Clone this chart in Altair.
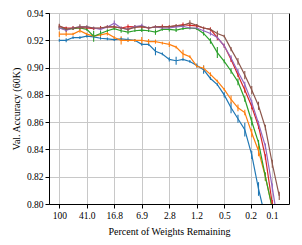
import altair as alt
import pandas as pd

# Percent of weights remaining at each pruning round
x_pct = [100, 80.0, 64.0, 51.2, 40.96, 32.77, 26.21, 20.97, 16.78, 13.42, 10.74,
         8.59, 6.87, 5.50, 4.40, 3.52, 2.81, 2.25, 1.80, 1.44, 1.15, 0.922,
         0.738, 0.590, 0.472, 0.378, 0.302, 0.242, 0.193, 0.155, 0.124, 0.099, 0.079]

series_names = ["s0", "s1", "s2", "s3", "s4", "s5"]
colors = ["#1f77b4", "#ff7f0e", "#2ca02c", "#d62728", "#9467bd", "#8c564b"]

blue = [0.920, 0.920, 0.922, 0.922, 0.923, 0.9225, 0.9215, 0.921, 0.9205, 0.921, 0.9205,
        0.920, 0.917, 0.917, 0.912, 0.910, 0.906, 0.905, 0.906, 0.9045, 0.9015, 0.8985,
        0.892, 0.8875, 0.880, 0.8705, 0.8625, 0.8545, 0.836, 0.811, 0.790, 0.770, 0.750]
orange = [0.9245, 0.9245, 0.9245, 0.927, 0.9245, 0.923, 0.924, 0.925, 0.922, 0.920, 0.920,
          0.920, 0.920, 0.919, 0.919, 0.918, 0.917, 0.915, 0.910, 0.908, 0.901, 0.8995,
          0.895, 0.890, 0.884, 0.8766, 0.8705, 0.867, 0.852, 0.839, 0.820, 0.797, 0.780]
green = [0.929, 0.928, 0.9285, 0.929, 0.928, 0.923, 0.925, 0.927, 0.9285, 0.927, 0.926,
         0.927, 0.9275, 0.927, 0.926, 0.928, 0.928, 0.9275, 0.9285, 0.929, 0.9285, 0.925,
         0.9195, 0.911, 0.9046, 0.8975, 0.8895, 0.877, 0.8605, 0.845, 0.820, 0.797, 0.780]
red = [0.930, 0.929, 0.929, 0.9295, 0.929, 0.9285, 0.929, 0.9298, 0.9298, 0.929, 0.930,
       0.9298, 0.9298, 0.929, 0.9298, 0.930, 0.930, 0.9305, 0.9315, 0.931, 0.9305, 0.929,
       0.928, 0.922, 0.916, 0.906, 0.8945, 0.8835, 0.8715, 0.857, 0.8345, 0.800, 0.780]
purple = [0.929, 0.9273, 0.929, 0.9298, 0.9298, 0.929, 0.928, 0.9298, 0.9325, 0.929, 0.928,
          0.930, 0.9307, 0.929, 0.9298, 0.929, 0.929, 0.9298, 0.9303, 0.929, 0.929, 0.927,
          0.925, 0.922, 0.916, 0.907, 0.897, 0.8876, 0.8745, 0.859, 0.8424, 0.812, 0.780]
brown = [0.9307, 0.928, 0.929, 0.9298, 0.9298, 0.929, 0.929, 0.9298, 0.9298, 0.929, 0.928,
         0.9295, 0.9302, 0.929, 0.9298, 0.9298, 0.9298, 0.9307, 0.931, 0.9327, 0.931, 0.929,
         0.928, 0.925, 0.923, 0.9135, 0.9045, 0.8945, 0.8835, 0.872, 0.856, 0.8295, 0.806]

blue_err = [0.001, 0.0015, 0.001, 0.001, 0.001, 0.001, 0.001, 0.001, 0.001, 0.001, 0.0015,
            0.001, 0.001, 0.001, 0.003, 0.001, 0.0015, 0.003, 0.001, 0.001, 0.0015, 0.003,
            0.001, 0.001, 0.002, 0.004, 0.003, 0.005, 0.003, 0.005, 0.005, 0.005, 0.005]
orange_err = [0.002, 0.0015, 0.001, 0.0015, 0.001, 0.001, 0.0015, 0.0015, 0.001, 0.003, 0.001,
              0.001, 0.0025, 0.002, 0.0015, 0.001, 0.002, 0.001, 0.003, 0.001, 0.001, 0.002,
              0.0015, 0.001, 0.001, 0.003, 0.0025, 0.002, 0.003, 0.004, 0.003, 0.003, 0.003]
green_err = [0.0015, 0.001, 0.001, 0.001, 0.001, 0.004, 0.002, 0.001, 0.001, 0.0015, 0.0015,
             0.001, 0.0015, 0.001, 0.002, 0.001, 0.0015, 0.0015, 0.001, 0.001, 0.001, 0.0015,
             0.002, 0.004, 0.0015, 0.002, 0.0025, 0.002, 0.003, 0.002, 0.003, 0.003, 0.003]
red_err = [0.0015, 0.001, 0.0015, 0.001, 0.001, 0.001, 0.0015, 0.001, 0.001, 0.001, 0.0015,
           0.001, 0.001, 0.001, 0.001, 0.0015, 0.001, 0.001, 0.0015, 0.001, 0.0015, 0.001,
           0.0015, 0.002, 0.0015, 0.002, 0.0015, 0.002, 0.002, 0.002, 0.002, 0.003, 0.003]
purple_err = [0.0015, 0.001, 0.001, 0.001, 0.001, 0.001, 0.001, 0.001, 0.002, 0.001, 0.001,
              0.001, 0.0015, 0.001, 0.001, 0.001, 0.001, 0.001, 0.0015, 0.001, 0.001, 0.001,
              0.0015, 0.001, 0.0015, 0.002, 0.002, 0.002, 0.002, 0.002, 0.002, 0.003, 0.003]
brown_err = [0.0015, 0.002, 0.001, 0.002, 0.001, 0.001, 0.001, 0.001, 0.001, 0.001, 0.001,
             0.0015, 0.001, 0.001, 0.001, 0.001, 0.001, 0.001, 0.001, 0.002, 0.001, 0.001,
             0.001, 0.002, 0.001, 0.0015, 0.0025, 0.003, 0.003, 0.003, 0.002, 0.003, 0.003]

x_ticks = [100, 41.0, 16.8, 6.9, 2.8, 1.16, 0.47, 0.2, 0.1]
y_ticks = [0.80, 0.82, 0.84, 0.86, 0.88, 0.90, 0.92, 0.94]

all_vals = [blue, orange, green, red, purple, brown]
all_errs = [blue_err, orange_err, green_err, red_err, purple_err, brown_err]

rows = []
for name, vals, errs in zip(series_names, all_vals, all_errs):
    for i, (p, v, e) in enumerate(zip(x_pct, vals, errs)):
        rows.append({"series": name, "pct": p, "acc": v,
                     "lo": v - e, "hi": v + e, "idx": i})
df = pd.DataFrame(rows)

FONT = "Liberation Serif"

x_enc = alt.X("pct:Q",
              scale=alt.Scale(type="log", domain=[0.05757, 139.7], reverse=True, nice=False),
              axis=alt.Axis(values=x_ticks, title="Percent of Weights Remaining",
                            labelExpr="datum.value >= 99 ? '100' : format(datum.value, '.1f')"))
y_scale = alt.Scale(domain=[0.80, 0.94], nice=False, zero=False)
y_axis = alt.Axis(values=y_ticks, format=".2f", title="Val. Accuracy (60K)",
                  labelOverlap=False, tickCount=8)
color_enc = alt.Color("series:N", scale=alt.Scale(domain=series_names, range=colors), legend=None)

lines = alt.Chart(df).mark_line(strokeWidth=1.2, clip=True).encode(
    x=x_enc,
    y=alt.Y("acc:Q", scale=y_scale, axis=y_axis),
    color=color_enc,
    order="idx:Q",
)

bars = alt.Chart(df).mark_rule(strokeWidth=1.1, clip=True).encode(
    x=x_enc,
    y=alt.Y("lo:Q", scale=y_scale, axis=y_axis),
    y2="hi:Q",
    color=color_enc,
)

chart = alt.layer(bars, lines).properties(
    width=240, height=191,
    autosize=alt.AutoSizeParams(type="none"),
    padding={"left": 41, "top": 5, "right": 5, "bottom": 33},
).configure_view(
    stroke="black", strokeWidth=1
).configure_axis(
    labelFont=FONT, titleFont=FONT, labelFontSize=9.5, titleFontSize=10,
    titleFontWeight="normal", labelColor="black", titleColor="black",
    tickColor="black", tickSize=4, tickWidth=1, domainColor="black",
    gridColor="#c8c8c8", gridWidth=1, labelPadding=2,
).configure_axisY(
    titlePadding=5
).configure_axisX(
    titlePadding=7
)

chart.save("out.html", embed_options={"renderer": "svg", "actions": False})
